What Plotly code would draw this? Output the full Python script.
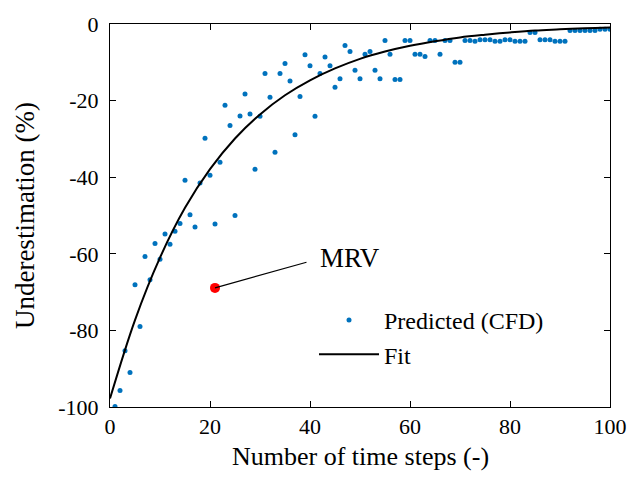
import plotly.graph_objects as go

# ---- data ----
steps = list(range(1, 101))
predicted = [
    -99.9, -95.7, -85.3, -91.0, -68.1, -79.0, -60.7, -66.8, -57.3, -61.4,
    -54.8, -57.5, -54.1, -52.1, -40.8, -49.8, -53.0, -41.5, -29.8, -39.5,
    -52.2, -36.1, -21.2, -26.5, -50.0, -24.0, -18.3, -23.5, -37.9, -24.1,
    -12.9, -19.1, -33.5, -12.9, -10.3, -14.9, -28.9, -18.9, -8.0, -10.9,
    -24.1, -12.9, -8.6, -10.9, -16.5, -14.3, -5.6, -7.2, -12.1, -14.3,
    -7.9, -7.2, -12.1, -14.3, -4.3, -7.9, -14.5, -14.5, -4.3, -4.3,
    -7.9, -7.9, -8.5, -4.3, -4.3, -7.9, -4.3, -4.3, -10.0, -10.0,
    -4.3, -4.3, -4.5, -4.1, -4.1, -4.1, -4.5, -4.5, -4.1, -4.1,
    -4.5, -4.5, -4.5, -2.2, -2.2, -4.1, -4.1, -4.1, -4.5, -4.5,
    -4.5, -1.7, -1.7, -1.7, -1.7, -1.7, -1.7, -1.4, -1.4, -1.4,
]
fit_x = [0, 5, 10, 15, 20, 25, 30, 35, 40, 45, 50, 55, 60, 65, 70, 75, 80, 85, 90, 95, 100]
fit_y = [-97.8, -77.3, -61.0, -48.0, -37.9, -29.9, -23.6, -18.6, -14.7, -11.6,
         -9.1, -7.2, -5.7, -4.5, -3.5, -2.8, -2.2, -1.7, -1.4, -1.1, -0.9]
mrv_x = [21]
mrv_y = [-68.9]
mrv_label_pos = (39.6, -62.1)   # end of the leader line (data units)

xticks = [0, 20, 40, 60, 80, 100]
xticklabels = ["0", "20", "40", "60", "80", "100"]
yticks = [-100, -80, -60, -40, -20, 0]
yticklabels = ["-100", "-80", "-60", "-40", "-20", "0"]

FONT = "Liberation Serif"
BLUE = "#0072BD"

fig = go.Figure()
fig.add_trace(go.Scatter(
    x=steps, y=predicted, mode="markers", name="Predicted (CFD)",
    marker=dict(color=BLUE, size=5, line=dict(width=0)),
))
fig.add_trace(go.Scatter(
    x=fit_x, y=fit_y, mode="lines", name="Fit", line_shape="spline",
    line=dict(color="black", width=2),
))
fig.add_trace(go.Scatter(
    x=mrv_x, y=mrv_y, mode="markers", showlegend=False,
    marker=dict(color="#FF0000", size=10, line=dict(width=0)),
))

fig.add_annotation(
    x=mrv_x[0], y=mrv_y[0], ax=mrv_label_pos[0], ay=mrv_label_pos[1],
    axref="x", ayref="y", xref="x", yref="y", text="", showarrow=True,
    arrowhead=0, arrowwidth=1.2, arrowcolor="black", standoff=0, startstandoff=0,
)
fig.add_annotation(
    x=mrv_label_pos[0] + 2.0, y=mrv_label_pos[1] + 1.0, xref="x", yref="y",
    text="MRV", showarrow=False, xanchor="left", yanchor="middle",
    font=dict(family=FONT, size=27, color="black"),
)
# x-axis title
fig.add_annotation(
    x=0.5, y=-0.128, xref="paper", yref="paper",
    text="Number of time steps (-)", showarrow=False,
    xanchor="center", yanchor="middle",
    font=dict(family=FONT, size=26, color="black"),
)

axis_common = dict(
    showgrid=False, zeroline=False, showline=True, linecolor="black", linewidth=1,
    mirror="allticks", ticks="inside", ticklen=6, tickwidth=1, tickcolor="black",
    tickfont=dict(family=FONT, size=22, color="black"), automargin=False,
)

fig.update_layout(
    width=630, height=480,
    margin=dict(l=110, r=20, t=24, b=73),
    paper_bgcolor="white", plot_bgcolor="white",
    font=dict(family=FONT, color="black"),
    showlegend=True,
    legend=dict(
        x=0.408, y=0.285, xanchor="left", yanchor="top",
        bgcolor="rgba(0,0,0,0)", borderwidth=0,
        font=dict(family=FONT, size=24, color="black"),
        itemwidth=60, tracegroupgap=0,
    ),
    xaxis=dict(
        range=[0, 100], tickvals=xticks, ticktext=xticklabels,
        ticklabelstandoff=0,
        **axis_common,
    ),
    yaxis=dict(
        range=[-100, 0], tickvals=yticks, ticktext=yticklabels,
        ticklabelstandoff=6,
        title=dict(text="Underestimation (%)", font=dict(family=FONT, size=27), standoff=15),
        **axis_common,
    ),
)

fig.write_html("out.html", config={"displayModeBar": False},
               post_script="document.body.style.margin='0px';")
